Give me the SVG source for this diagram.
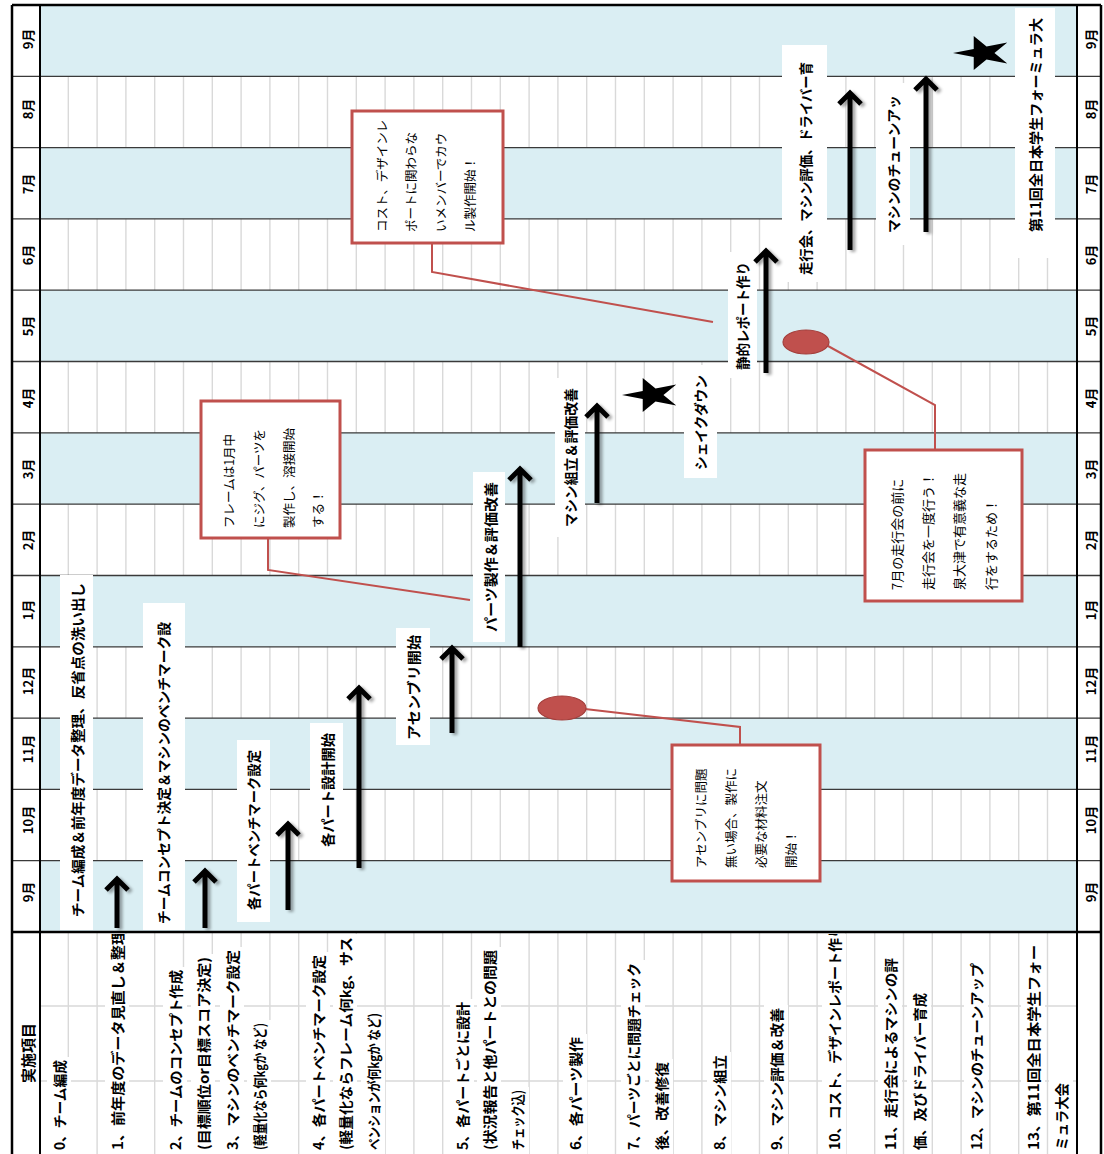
<svg xmlns="http://www.w3.org/2000/svg" width="1104" height="1154" viewBox="0 0 1104 1154">
<defs>
<style>
text{font-family:"Noto Sans CJK JP","Noto Sans CJK SC",sans-serif;dominant-baseline:central}
.mon{font-size:13px;font-weight:bold;text-anchor:middle}
.b{font-size:14px;font-weight:bold}
.n{font-size:12.5px}
.n13{font-size:13px}
.hl{stroke:#3a3a3a;stroke-width:1.3;fill:none}
.vg{stroke:#d9d9d9;stroke-width:1.4;fill:none}
.blue{fill:#daeef3}
.wr{fill:#fff}
.arr{stroke:#000;stroke-width:5;fill:none;stroke-linejoin:miter}
.red{stroke:#c0504d;stroke-width:2;fill:none}
.box{fill:#fff;stroke:#c0504d;stroke-width:3}
.ell{fill:#c0504d;stroke:#a43f3c;stroke-width:1.2}
.frame{stroke:#000;fill:none}
</style>
<filter id="sh" x="-50%" y="-10%" width="200%" height="120%">
<feGaussianBlur in="SourceAlpha" stdDeviation="1.6"/>
<feOffset dx="3" dy="2" result="o"/>
<feComponentTransfer><feFuncA type="linear" slope="0.35"/></feComponentTransfer>
<feMerge><feMergeNode/><feMergeNode in="SourceGraphic"/></feMerge>
</filter>
<clipPath id="tc"><rect x="40" y="934" width="1037" height="220"/></clipPath>
<polygon id="star" points="-30,0 -9.27,-4.04 -9.27,-17.12 3.54,-6.53 24.27,-10.58 11.46,0 24.27,10.58 3.54,6.53 -9.27,17.12 -9.27,4.04" fill="#000"/>
</defs>

<rect width="1104" height="1154" fill="#fff"/>

<g id="grid">
<path class="vg" d="M68.3 5V1154M97.1 5V1154M125.9 5V1154M154.7 5V1154M183.5 5V1154M212.3 5V1154M241.1 5V1154M269.9 5V1154M298.7 5V1154M327.5 5V1154M356.3 5V1154M385.1 5V1154M413.9 5V1154M442.7 5V1154M471.5 5V1154M500.3 5V1154M529.1 5V1154M557.9 5V1154M586.7 5V1154M615.5 5V1154M644.3 5V1154M673.1 5V1154M701.9 5V1154M730.7 5V1154M759.5 5V1154M788.3 5V1154M817.1 5V1154M845.9 5V1154M874.7 5V1154M903.5 5V1154M932.3 5V1154M961.1 5V1154M989.9 5V1154M1018.7 5V1154M1047.5 5V1154"/>
<path class="vg" d="M40 1006H1077M40 1081H1077"/>
<rect class="blue" x="40" y="860.7" width="1037" height="71.3"/>
<rect class="blue" x="40" y="718.1" width="1037" height="71.3"/>
<rect class="blue" x="40" y="575.5" width="1037" height="71.3"/>
<rect class="blue" x="40" y="432.8" width="1037" height="71.3"/>
<rect class="blue" x="40" y="290.2" width="1037" height="71.3"/>
<rect class="blue" x="40" y="147.6" width="1037" height="71.3"/>
<rect class="blue" x="40" y="5" width="1037" height="71.3"/>
<path class="hl" d="M12 860.7H1101M12 789.4H1101M12 718.1H1101M12 646.8H1101M12 575.5H1101M12 504.1H1101M12 432.8H1101M12 361.5H1101M12 290.2H1101M12 218.9H1101M12 147.6H1101M12 76.3H1101"/>
</g>

<g id="months-left">
<text class="mon" transform="translate(27,892) rotate(-90)">9月</text>
<text class="mon" transform="translate(27,820) rotate(-90)">10月</text>
<text class="mon" transform="translate(27,749) rotate(-90)">11月</text>
<text class="mon" transform="translate(27,681) rotate(-90)">12月</text>
<text class="mon" transform="translate(27,610) rotate(-90)">1月</text>
<text class="mon" transform="translate(27,540) rotate(-90)">2月</text>
<text class="mon" transform="translate(27,469) rotate(-90)">3月</text>
<text class="mon" transform="translate(27,398) rotate(-90)">4月</text>
<text class="mon" transform="translate(27,326) rotate(-90)">5月</text>
<text class="mon" transform="translate(27,255) rotate(-90)">6月</text>
<text class="mon" transform="translate(27,184) rotate(-90)">7月</text>
<text class="mon" transform="translate(27,109) rotate(-90)">8月</text>
<text class="mon" transform="translate(27,39) rotate(-90)">9月</text>
</g>
<g id="months-right">
<text class="mon" transform="translate(1090,892) rotate(-90)">9月</text>
<text class="mon" transform="translate(1090,820) rotate(-90)">10月</text>
<text class="mon" transform="translate(1090,749) rotate(-90)">11月</text>
<text class="mon" transform="translate(1090,681) rotate(-90)">12月</text>
<text class="mon" transform="translate(1090,610) rotate(-90)">1月</text>
<text class="mon" transform="translate(1090,540) rotate(-90)">2月</text>
<text class="mon" transform="translate(1090,469) rotate(-90)">3月</text>
<text class="mon" transform="translate(1090,398) rotate(-90)">4月</text>
<text class="mon" transform="translate(1090,326) rotate(-90)">5月</text>
<text class="mon" transform="translate(1090,255) rotate(-90)">6月</text>
<text class="mon" transform="translate(1090,184) rotate(-90)">7月</text>
<text class="mon" transform="translate(1090,109) rotate(-90)">8月</text>
<text class="mon" transform="translate(1090,39) rotate(-90)">9月</text>
</g>

<g id="tasks" clip-path="url(#tc)">
<g class="wr">
<rect x="47" y="1057" width="24" height="97"/>
<rect x="105" y="930" width="24" height="224"/>
<rect x="163" y="967" width="24" height="187"/>
<rect x="191" y="954" width="24" height="200"/>
<rect x="220" y="947" width="24" height="207"/>
<rect x="247" y="1020" width="24" height="134"/>
<rect x="306" y="952" width="24" height="202"/>
<rect x="333" y="934" width="24" height="220"/>
<rect x="361" y="1010" width="24" height="144"/>
<rect x="450" y="999" width="24" height="155"/>
<rect x="477" y="947" width="24" height="207"/>
<rect x="505" y="1087" width="24" height="67"/>
<rect x="563" y="1034" width="24" height="120"/>
<rect x="621" y="960" width="24" height="194"/>
<rect x="649" y="1059" width="24" height="95"/>
<rect x="707" y="1052" width="24" height="102"/>
<rect x="764" y="1005" width="24" height="149"/>
<rect x="822" y="930" width="24" height="224"/>
<rect x="878" y="955" width="24" height="199"/>
<rect x="907" y="990" width="24" height="164"/>
<rect x="964" y="960" width="24" height="194"/>
<rect x="1021" y="942" width="24" height="212"/>
<rect x="1049" y="1080" width="24" height="74"/>
</g>
<text class="b" transform="translate(59,1150) rotate(-90)" textLength="90" lengthAdjust="spacingAndGlyphs">0、チーム編成</text>
<text class="b" transform="translate(117,1150) rotate(-90)" textLength="220" lengthAdjust="spacingAndGlyphs">1、前年度のデータ見直し＆整理</text>
<text class="b" transform="translate(175,1150) rotate(-90)" textLength="180" lengthAdjust="spacingAndGlyphs">2、チームのコンセプト作成</text>
<text class="b" transform="translate(203,1150) rotate(-90)" textLength="193" lengthAdjust="spacingAndGlyphs">(目標順位or目標スコア決定)</text>
<text class="b" transform="translate(232,1150) rotate(-90)" textLength="200" lengthAdjust="spacingAndGlyphs">3、マシンのベンチマーク設定</text>
<text class="b" transform="translate(259,1150) rotate(-90)" textLength="127" lengthAdjust="spacingAndGlyphs">(軽量化なら何kgか など)</text>
<text class="b" transform="translate(318,1150) rotate(-90)" textLength="195" lengthAdjust="spacingAndGlyphs">4、各パートベンチマーク設定</text>
<text class="b" transform="translate(345,1150) rotate(-90)" textLength="213" lengthAdjust="spacingAndGlyphs">(軽量化ならフレーム何kg、サス</text>
<text class="b" transform="translate(373,1150) rotate(-90)" textLength="137" lengthAdjust="spacingAndGlyphs">ペンションが何kgか など)</text>
<text class="b" transform="translate(462,1150) rotate(-90)" textLength="148" lengthAdjust="spacingAndGlyphs">5、各パートごとに設計</text>
<text class="b" transform="translate(489,1150) rotate(-90)" textLength="200" lengthAdjust="spacingAndGlyphs">(状況報告と他パートとの問題</text>
<text class="b" transform="translate(517,1150) rotate(-90)" textLength="60" lengthAdjust="spacingAndGlyphs">チェック込)</text>
<text class="b" transform="translate(575,1150) rotate(-90)" textLength="113" lengthAdjust="spacingAndGlyphs">6、各パーツ製作</text>
<text class="b" transform="translate(633,1150) rotate(-90)" textLength="187" lengthAdjust="spacingAndGlyphs">7、パーツごとに問題チェック</text>
<text class="b" transform="translate(661,1150) rotate(-90)" textLength="88" lengthAdjust="spacingAndGlyphs">後、改善修復</text>
<text class="b" transform="translate(719,1150) rotate(-90)" textLength="95" lengthAdjust="spacingAndGlyphs">8、マシン組立</text>
<text class="b" transform="translate(776,1150) rotate(-90)" textLength="142" lengthAdjust="spacingAndGlyphs">9、マシン評価＆改善</text>
<text class="b" transform="translate(834,1150) rotate(-90)" textLength="226" lengthAdjust="spacingAndGlyphs">10、コスト、デザインレポート作り</text>
<text class="b" transform="translate(890,1150) rotate(-90)" textLength="192" lengthAdjust="spacingAndGlyphs">11、走行会によるマシンの評</text>
<text class="b" transform="translate(919,1150) rotate(-90)" textLength="157" lengthAdjust="spacingAndGlyphs">価、及びドライバー育成</text>
<text class="b" transform="translate(976,1150) rotate(-90)" textLength="187" lengthAdjust="spacingAndGlyphs">12、マシンのチューンアップ</text>
<text class="b" transform="translate(1033,1150) rotate(-90)" textLength="205" lengthAdjust="spacingAndGlyphs">13、第11回全日本学生フォー</text>
<text class="b" transform="translate(1061,1150) rotate(-90)" textLength="67" lengthAdjust="spacingAndGlyphs">ミュラ大会</text>
</g>
<text class="b" style="font-size:15px;text-anchor:middle" transform="translate(27,1053) rotate(-90)">実施項目</text>

<g id="bar-labels">
<g class="wr">
<rect x="60" y="575" width="33" height="355"/>
<rect x="143" y="603" width="42" height="327"/>
<rect x="237" y="740" width="33" height="182"/>
<rect x="310" y="723" width="33" height="137"/>
<rect x="396" y="628" width="34" height="117"/>
<rect x="473" y="472" width="32" height="170"/>
<rect x="555" y="378" width="30" height="159"/>
<rect x="684" y="365" width="33" height="113"/>
<rect x="728" y="252" width="29" height="126"/>
<rect x="782" y="45" width="45" height="237"/>
<rect x="876" y="83" width="34" height="162"/>
<rect x="1015" y="8" width="40" height="250"/>
</g>
<text class="b" transform="translate(77,917) rotate(-90)" textLength="334" lengthAdjust="spacingAndGlyphs">チーム編成＆前年度データ整理、反省点の洗い出し</text>
<text class="b" transform="translate(163,924) rotate(-90)" textLength="302" lengthAdjust="spacingAndGlyphs">チームコンセプト決定＆マシンのベンチマーク設</text>
<text class="b" transform="translate(253,910) rotate(-90)" textLength="160" lengthAdjust="spacingAndGlyphs">各パートベンチマーク設定</text>
<text class="b" transform="translate(327,847) rotate(-90)" textLength="114" lengthAdjust="spacingAndGlyphs">各パート設計開始</text>
<text class="b" transform="translate(413,740) rotate(-90)" textLength="105" lengthAdjust="spacingAndGlyphs">アセンブリ開始</text>
<text class="b" transform="translate(490,632) rotate(-90)" textLength="150" lengthAdjust="spacingAndGlyphs">パーツ製作＆評価改善</text>
<text class="b" transform="translate(570,527) rotate(-90)" textLength="139" lengthAdjust="spacingAndGlyphs">マシン組立＆評価改善</text>
<text class="b" transform="translate(700,470) rotate(-90)" textLength="95" lengthAdjust="spacingAndGlyphs">シェイクダウン</text>
<text class="b" transform="translate(742,370) rotate(-90)" textLength="108" lengthAdjust="spacingAndGlyphs">静的レポート作り</text>
<text class="b" transform="translate(805,275) rotate(-90)" textLength="213" lengthAdjust="spacingAndGlyphs">走行会、マシン評価、ドライバー育</text>
<text class="b" transform="translate(893,233) rotate(-90)" textLength="138" lengthAdjust="spacingAndGlyphs">マシンのチューンアッ</text>
<text class="b" transform="translate(1035,232) rotate(-90)" textLength="214" lengthAdjust="spacingAndGlyphs">第11回全日本学生フォーミュラ大</text>
</g>

<g id="connectors">
<g filter="url(#sh)">
<path class="arr" d="M117 928V882M106 890L117 879L128 890"/>
<path class="arr" d="M205 928V874M194 882L205 871L216 882"/>
<path class="arr" d="M288 910V827M277 835L288 824L299 835"/>
<path class="arr" d="M359 868V691M348 699L359 688L370 699"/>
<path class="arr" d="M452 733V651M441 659L452 648L463 659"/>
<path class="arr" d="M520 647V472M509 480L520 469L531 480"/>
<path class="arr" d="M597 503V409M586 417L597 406L608 417"/>
<path class="arr" d="M766 373V254M755 262L766 251L777 262"/>
<path class="arr" d="M850 250V96M839 104L850 93L861 104"/>
<path class="arr" d="M926 232V82M915 90L926 79L937 90"/>
</g>
<path class="red" d="M432 243V272L713 322"/>
<path class="red" d="M268 538V570L470 600"/>
<path class="red" d="M585 709L740 727V745"/>
<path class="red" d="M828 346L935 405V450"/>
</g>

<g id="milestones">
<use href="#star" x="652" y="395"/>
<use href="#star" x="983" y="53"/>
<ellipse class="ell" cx="562" cy="708" rx="24" ry="12"/>
<ellipse class="ell" cx="806" cy="342" rx="23" ry="12"/>
</g>

<g id="note-cost">
<rect class="box" x="352" y="111" width="151" height="132"/>
<text class="n" transform="translate(381,232) rotate(-90)">コスト、デザインレ</text>
<text class="n" transform="translate(410,232) rotate(-90)">ポートに関わらな</text>
<text class="n" transform="translate(440,232) rotate(-90)">いメンバーでカウ</text>
<text class="n" transform="translate(469,232) rotate(-90)">ル製作開始！</text>
</g>
<g id="note-frame">
<rect class="box" x="201" y="401" width="139" height="137"/>
<text class="n" transform="translate(228,528) rotate(-90)">フレームは1月中</text>
<text class="n" transform="translate(258,528) rotate(-90)">にジグ、パーツを</text>
<text class="n" transform="translate(288,528) rotate(-90)">製作し、溶接開始</text>
<text class="n" transform="translate(317,528) rotate(-90)">する！</text>
</g>
<g id="note-assembly">
<rect class="box" x="672" y="745" width="148" height="136"/>
<text class="n" transform="translate(700,868) rotate(-90)">アセンブリに問題</text>
<text class="n" transform="translate(730,868) rotate(-90)">無い場合、製作に</text>
<text class="n" transform="translate(760,868) rotate(-90)">必要な材料注文</text>
<text class="n" transform="translate(790,868) rotate(-90)">開始！</text>
</g>
<g id="note-run">
<rect class="box" x="865" y="450" width="157" height="151"/>
<text class="n13" transform="translate(896,590) rotate(-90)">7月の走行会の前に</text>
<text class="n13" transform="translate(927,590) rotate(-90)">走行会を一度行う！</text>
<text class="n13" transform="translate(958,590) rotate(-90)">泉大津で有意義な走</text>
<text class="n13" transform="translate(990,590) rotate(-90)">行をするため！</text>
</g>

<g id="frame">
<path class="frame" stroke-width="2.5" d="M12 5H1101M12 932H1101"/>
<path class="frame" stroke-width="2.5" d="M12 5V1154M1101 5V1154"/>
<path class="frame" stroke-width="2" d="M40 5V1154M1077 5V1154"/>
</g>
</svg>
